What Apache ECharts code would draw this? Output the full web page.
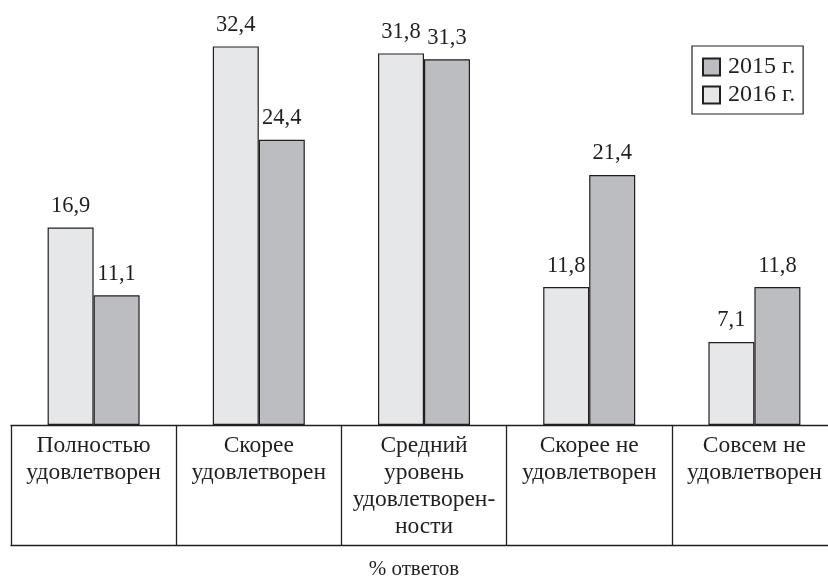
<!DOCTYPE html>
<html><head><meta charset="utf-8">
<script src="https://cdn.jsdelivr.net/npm/echarts@6/dist/echarts.min.js"></script>
<style>html,body{margin:0;padding:0;background:#fff}#c{width:828px;height:576px}</style>
</head><body><div id="c"></div>
<script>
const categories = ['Полностью\nудовлетворен', 'Скорее\nудовлетворен', 'Средний\nуровень\nудовлетворен-\nности', 'Скорее не\nудовлетворен', 'Совсем не\nудовлетворен'];
const values2016 = [16.9, 32.4, 31.8, 11.8, 7.1];
const values2015 = [11.1, 24.4, 31.3, 21.4, 11.8];
const seriesNames = ['2015 г.', '2016 г.'];
const axisTitle = '% ответов';

const FONT = '"Liberation Serif", "Times New Roman", serif';
const INK = '#231f20';
const fmt = p => String(p.value).replace('.', ',');

const chart = echarts.init(document.getElementById('c'));
chart.setOption({
  animation: false,
  backgroundColor: '#fff',
  textStyle: { fontFamily: FONT, color: INK },
  title: { text: axisTitle, left: 'center', top: 554, textStyle: { fontFamily: FONT, fontSize: 21, fontWeight: 'normal', color: INK } },
  legend: {
    data: seriesNames, orient: 'vertical', left: 692, top: 46,
    borderColor: INK, borderWidth: 1.2, padding: [9, 8, 7, 10], itemGap: 4,
    itemWidth: 17, itemHeight: 17, icon: 'rect',
    textStyle: { fontFamily: FONT, fontSize: 24, color: INK, padding: [0, 0, 0, 3] }
  },
  grid: { left: 11, width: 826, top: 16, bottom: 151, containLabel: false, outerBoundsMode: 'none' },
  xAxis: [{
    type: 'category', data: categories, boundaryGap: true,
    axisLine: { lineStyle: { color: INK, width: 1.3 } },
    axisTick: { show: true, length: 120, inside: false, lineStyle: { color: INK, width: 1.3 } },
    axisLabel: { interval: 0, margin: 7, fontFamily: FONT, fontSize: 23.5, lineHeight: 27, color: INK, align: 'center', verticalAlign: 'top' }
  }, {
    type: 'category', data: categories, position: 'bottom', offset: 120,
    axisLine: { lineStyle: { color: INK, width: 1.3 } },
    axisTick: { show: false }, axisLabel: { show: false }
  }],
  yAxis: { type: 'value', min: 0, max: 35, show: false, splitLine: { show: false } },
  series: [{
    name: '2016 г.', type: 'bar', data: values2016, barWidth: 46, barGap: '0%',
    itemStyle: { color: '#e6e7e8', borderColor: INK, borderWidth: 1.2 },
    label: { show: true, position: 'top', distance: 10, formatter: fmt, fontFamily: FONT, fontSize: 22.5, color: INK }
  }, {
    name: '2015 г.', type: 'bar', data: values2015, barWidth: 46, barGap: '0%',
    itemStyle: { color: '#bcbdc0', borderColor: INK, borderWidth: 1.2 },
    label: { show: true, position: 'top', distance: 10, formatter: fmt, fontFamily: FONT, fontSize: 22.5, color: INK }
  }]
});
</script></body></html>
